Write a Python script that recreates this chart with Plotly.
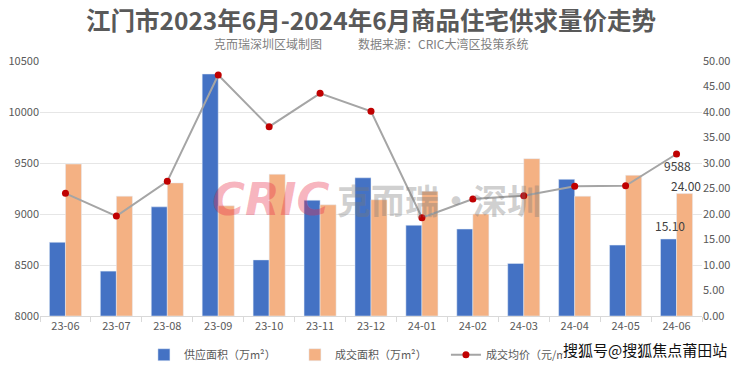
import plotly.graph_objects as go

months = ["23-06", "23-07", "23-08", "23-09", "23-10", "23-11", "23-12",
          "24-01", "24-02", "24-03", "24-04", "24-05", "24-06"]
supply = [14.45, 8.8, 21.4, 47.45, 11.0, 22.7, 27.1, 17.8, 17.05, 10.3, 26.8, 13.9, 15.10]
deal = [29.8, 23.5, 26.1, 21.6, 27.8, 21.8, 22.8, 24.45, 20.0, 30.85, 23.5, 27.6, 24.00]
price = [9203, 8980, 9320, 10363, 9856, 10183, 10007, 8964, 9147, 9180, 9271, 9277, 9588]

left_ticks = [8000, 8500, 9000, 9500, 10000, 10500]
right_ticks = [0, 5, 10, 15, 20, 25, 30, 35, 40, 45, 50]

FONT = "Noto Sans CJK SC"
TICK_COLOR = "#595959"
LABEL_FONT = dict(size=12, color="#404040", family=FONT)

fig = go.Figure()
fig.add_trace(go.Bar(
    x=months, y=supply, name="供应面积（万m²）", yaxis="y2",
    marker=dict(color="#4472C4"),
))
fig.add_trace(go.Bar(
    x=months, y=deal, name="成交面积（万m²）", yaxis="y2",
    marker=dict(color="#F4B183"),
))
fig.add_trace(go.Scatter(
    x=months, y=price, name="成交均价（元/m²）", yaxis="y",
    mode="lines+markers",
    line=dict(color="#A5A5A5", width=2),
    marker=dict(color="#C00000", size=7),
    cliponaxis=False,
))

annotations = [
    dict(text="<b>江门市2023年6月-2024年6月商品住宅供求量价走势</b>",
         xref="paper", yref="paper", x=0.5, y=1, yshift=42,
         xanchor="center", yanchor="middle", showarrow=False, borderpad=0,
         font=dict(size=24.5, color="#595959", family=FONT)),
    dict(text="克而瑞深圳区域制图\u3000\u3000\u3000数据来源：CRIC大湾区投策系统",
         xref="paper", yref="paper", x=0.5, y=1, yshift=18,
         xanchor="center", yanchor="middle", showarrow=False,
         font=dict(size=12, color="#7F7F7F", family=FONT)),
    dict(text="<b><i>CRIC</i></b>", xref="paper", yref="paper",
         x=0.257, y=0.455, xanchor="left", yanchor="middle", showarrow=False,
         font=dict(size=45, color="rgba(232,40,70,0.35)", family="DejaVu Sans")),
    dict(text="<b>克而瑞·深圳</b>", xref="paper", yref="paper",
         x=0.446, y=0.455, xanchor="left", yanchor="middle", showarrow=False,
         font=dict(size=34, color="rgba(120,120,120,0.35)", family=FONT)),
    # data labels for the last month
    dict(text=f"{supply[-1]:.2f}", x=months[-1], y=supply[-1], xref="x", yref="y2",
         xshift=-7, yanchor="bottom", yshift=3, showarrow=False, font=LABEL_FONT),
    dict(text=f"{deal[-1]:.2f}", x=months[-1], y=deal[-1], xref="x", yref="y2",
         xshift=9, yanchor="bottom", yshift=-2, showarrow=False, font=LABEL_FONT),
    dict(text=f"{price[-1]:d}", x=months[-1], y=price[-1], xref="x", yref="y",
         xshift=1, yanchor="top", yshift=-1, showarrow=False, font=LABEL_FONT),
    dict(text="搜狐号@搜狐焦点莆田站", xref="paper", yref="paper",
         x=0.7885, y=-0.133, xanchor="left", yanchor="middle", showarrow=False,
         bgcolor="white", borderpad=0,
         font=dict(size=15, color="#111111", family=FONT)),
]

fig.update_layout(
    width=732, height=357,
    margin=dict(l=32, r=38, t=53, b=49, autoexpand=False),
    paper_bgcolor="white", plot_bgcolor="white",
    font=dict(family=FONT, color=TICK_COLOR, size=11),
    barmode="group", bargap=0.37, bargroupgap=0,
    showlegend=True,
    legend=dict(orientation="h", x=0.157, xanchor="left", y=-0.095, yanchor="top",
                font=dict(size=11, color=TICK_COLOR), itemwidth=30,
                entrywidth=106, entrywidthmode="pixels",
                tracegroupgap=0, traceorder="normal"),
    xaxis=dict(
        type="category", range=[-0.5, len(months) - 0.5],
        showgrid=False, showline=True, linecolor="#D9D9D9",
        ticks="outside", tickson="boundaries", ticklen=5, tickcolor="#D9D9D9",
        tickfont=dict(size=11, color=TICK_COLOR), automargin=False,
    ),
    yaxis=dict(
        range=[8000, 10500], tickvals=left_ticks, tickformat="d", showgrid=True,
        gridcolor="#E6E6E6", gridwidth=1, zeroline=False,
        ticks="", tickfont=dict(size=11, color=TICK_COLOR),
        overlaying="y2", side="left", automargin=False,
    ),
    yaxis2=dict(
        range=[0, 50], tickvals=right_ticks, tickformat=".2f",
        showgrid=False, zeroline=False, side="right",
        tickfont=dict(size=11, color=TICK_COLOR), automargin=False,
    ),
    annotations=annotations,
)

fig.write_html("out.html")
